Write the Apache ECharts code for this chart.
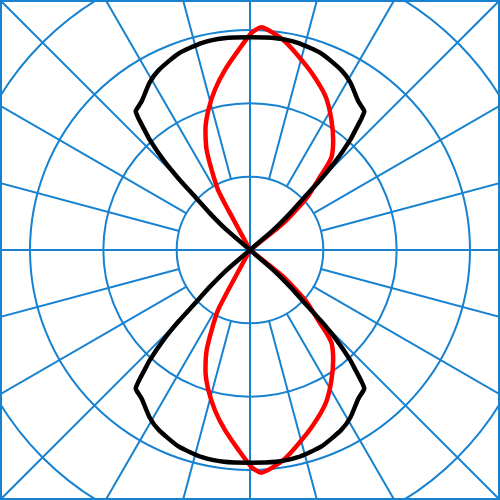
<!DOCTYPE html>
<html>
<head>
<meta charset="utf-8">
<script src="https://cdn.jsdelivr.net/npm/echarts@6/dist/echarts.min.js"></script>
<style>html,body{margin:0;padding:0;background:#fff;}#c{width:500px;height:500px;}</style>
</head>
<body>
<div id="c"></div>
<script>
// Black curve (angle in degrees clockwise from top, value in radial units; circles every 100)
var blackAngles = [310, 310.6, 312.5, 314.1, 315, 316.1, 317.7, 318.7, 319.7, 320.5, 321.5, 324, 329, 333, 340, 347, 353,
  0, 7, 13, 20, 27, 31, 36, 38.5, 39.5, 40.3, 41.3, 42.3, 43.9, 45, 45.9, 47.5, 49.4, 50, 90,
  130, 130.6, 132.5, 134.1, 135, 136.1, 137.7, 138.7, 139.7, 140.5, 141.5, 144, 149, 153, 160, 167, 173,
  180, 187, 193, 200, 207, 211, 216, 218.5, 219.5, 220.3, 221.3, 222.3, 223.9, 225, 225.9, 227.5, 229.4, 230, 270, 310];
var blackValues = [4, 42, 74, 104, 138, 170, 203, 218, 235, 245, 247, 251, 266, 275, 285, 290, 291,
  290, 291, 290, 285, 275, 266, 251, 247, 245, 235, 218, 203, 170, 138, 104, 74, 42, 4, 0,
  4, 42, 74, 104, 138, 170, 203, 218, 235, 245, 247, 251, 266, 275, 285, 290, 291,
  290, 291, 290, 285, 275, 266, 251, 247, 245, 235, 218, 203, 170, 138, 104, 74, 42, 4, 0, 4];
// Red curve
var redAngles = [331, 331.5, 332, 334.4, 336.6, 339.7, 343.4, 347.7, 352.1, 356.7, 0.4, 2.8, 9, 17.2, 23.2, 27.1, 32.1, 37.1, 41.2, 42.6, 43.7, 47.5, 51.3, 52, 90,
  128, 128.7, 132.5, 136.3, 137.4, 138.8, 142.9, 147.9, 152.9, 156.8, 162.8, 171, 177.2, 179.6, 183.3, 187.9, 192.3, 196.6, 200.3, 203.4, 205.6, 208, 208.5, 209, 270, 331];
var redValues = [5, 61, 93, 121, 149, 175, 199, 224, 248, 273, 296, 304, 290, 262, 243, 230, 209, 188, 169, 154, 138, 105, 58, 6, 0,
  6, 58, 105, 138, 154, 169, 188, 209, 230, 243, 262, 290, 304, 296, 273, 248, 224, 199, 175, 149, 121, 93, 61, 5, 0, 5];
// Grid circles
var ringMin = 100, ringMax = 500, ringStep = 100;

function pairs(a, v) { return a.map(function (x, i) { return [v[i], x]; }); }

var blue = '#1782d0';
var chart = echarts.init(document.getElementById('c'), null, { renderer: 'canvas' });
chart.setOption({
  animation: false,
  grid: { show: true, left: 0, right: 0, top: 0, bottom: 0, borderColor: blue, borderWidth: 4, backgroundColor: 'transparent' },
  xAxis: { show: false, type: 'value' },
  yAxis: { show: false, type: 'value' },
  polar: [
    { center: ['50%', '50%'], radius: [73.33, 366.67] },
    { center: ['50%', '50%'], radius: 366.67 }
  ],
  radiusAxis: [
    { polarIndex: 0, type: 'value', min: ringMin, max: ringMax, interval: ringStep,
      axisLine: { show: false }, axisTick: { show: false }, axisLabel: { show: false },
      splitLine: { show: true, lineStyle: { color: blue, width: 2 } } },
    { polarIndex: 1, type: 'value', min: 0, max: ringMax,
      axisLine: { show: false }, axisTick: { show: false }, axisLabel: { show: false },
      splitLine: { show: false } }
  ],
  angleAxis: [
    { polarIndex: 0, type: 'value', min: 0, max: 360, interval: 15, startAngle: 90, clockwise: true,
      axisLine: { show: false }, axisTick: { show: false }, axisLabel: { show: false },
      splitLine: { show: true, lineStyle: { color: blue, width: 2 } } },
    { polarIndex: 1, type: 'value', min: 0, max: 360, interval: 90, startAngle: 90, clockwise: true,
      axisLine: { show: false }, axisTick: { show: false }, axisLabel: { show: false },
      splitLine: { show: true, lineStyle: { color: blue, width: 2 } } }
  ],
  series: [
    { type: 'line', coordinateSystem: 'polar', polarIndex: 1, data: pairs(redAngles, redValues),
      showSymbol: false, symbol: 'none', smooth: 0.2, clip: false, z: 3,
      lineStyle: { color: '#ff0000', width: 4.5, join: 'round' } },
    { type: 'line', coordinateSystem: 'polar', polarIndex: 1, data: pairs(blackAngles, blackValues),
      showSymbol: false, symbol: 'none', smooth: 0.2, clip: false, z: 4,
      lineStyle: { color: '#000000', width: 4.5, join: 'round' } }
  ]
});
</script>
</body>
</html>
